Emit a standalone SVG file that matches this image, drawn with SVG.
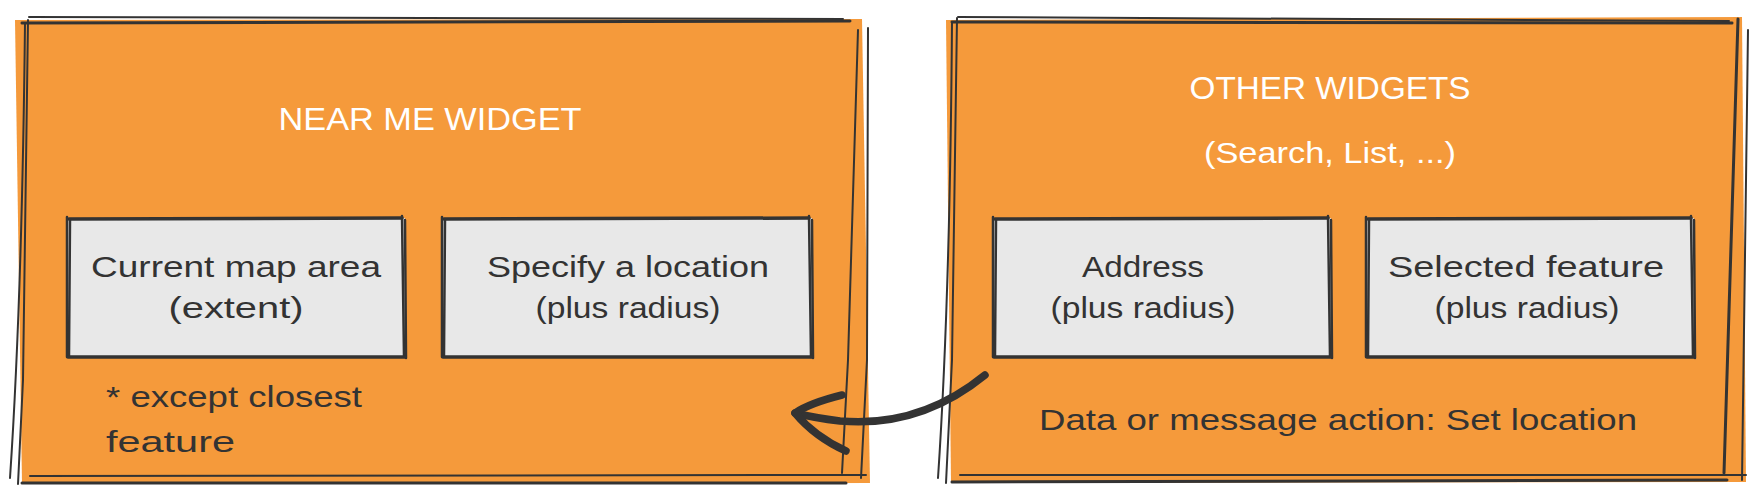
<svg xmlns="http://www.w3.org/2000/svg" width="1754" height="500" viewBox="0 0 1754 500">
<defs>
<style>
.bg{fill:#f59a3b;stroke:none}
.sk{fill:none;stroke:#333;stroke-width:2;stroke-linecap:round;stroke-linejoin:round}
.skt{fill:none;stroke:#333;stroke-width:3;stroke-linecap:round}
.in{fill:#e8e8e8;stroke:none}
.bs{fill:none;stroke:#333;stroke-width:2.5;stroke-linecap:round}
.bt{fill:none;stroke:#333;stroke-width:3.5;stroke-linecap:round}
.t{font-family:"Liberation Sans","Open Sans",sans-serif;fill:#333}
.w{font-family:"Liberation Sans","Open Sans",sans-serif;fill:#ffffff}
.arr{fill:none;stroke:#333;stroke-width:7.5;stroke-linecap:round;stroke-linejoin:round}
</style>
</defs>
<rect width="1754" height="500" fill="#ffffff"/>

<g id="near-me-widget">
<polygon class="bg" points="15,20 862,19 870,483 22,484"/>
<path class="skt" d="M22 23 L850 21"/>
<path class="sk" d="M29 17 L843 19"/>
<path class="sk" d="M25 23 Q22 300 10 478"/>
<path class="sk" d="M28 20 L23 380 L18 484"/>
<path class="sk" d="M858 30 L848 360 L842 473"/>
<path class="sk" d="M868 28 L867 360 L861 478"/>
<path class="skt" d="M22 483 L846 483"/>
<path class="sk" d="M30 476 L866 475"/>
<text class="w" x="430" y="130" font-size="32" text-anchor="middle" textLength="303" lengthAdjust="spacingAndGlyphs">NEAR ME WIDGET</text>
<text class="t" x="106" y="407" font-size="30" textLength="256" lengthAdjust="spacingAndGlyphs">* except closest</text>
<text class="t" x="106" y="452" font-size="30" textLength="129" lengthAdjust="spacingAndGlyphs">feature</text>
</g>

<g id="other-widgets">
<polygon class="bg" points="946,20 1742,17 1746,482 951,483"/>
<path class="sk" d="M958 17 L1729 21"/>
<path class="skt" d="M952 22 L1732 23"/>
<path class="sk" d="M952 22 Q950 300 938 478"/>
<path class="sk" d="M957 18 L952 360 L946 483"/>
<path class="skt" d="M1738 19 L1724 473"/>
<path class="sk" d="M1748 30 L1742 480"/>
<path class="skt" d="M952 482 L1727 480"/>
<path class="sk" d="M960 475 L1746 475"/>
<text class="w" x="1330" y="99" font-size="32" text-anchor="middle" textLength="281" lengthAdjust="spacingAndGlyphs">OTHER WIDGETS</text>
<text class="w" x="1330" y="163" font-size="30" text-anchor="middle" textLength="252" lengthAdjust="spacingAndGlyphs">(Search, List, ...)</text>
<text class="t" x="1338" y="430" font-size="30" text-anchor="middle" textLength="598" lengthAdjust="spacingAndGlyphs">Data or message action: Set location</text>
</g>

<g id="current-map-area">
<rect class="in" x="67" y="218" width="338" height="139"/>
<path class="bt" d="M69 219 L402 218"/>
<path class="bs" d="M67 217 L67 357"/>
<path class="bs" d="M70 220 L69 356"/>
<path class="bs" d="M402 216 L404 356"/>
<path class="bs" d="M405 220 L406 358"/>
<path class="bt" d="M68 357 L405 357"/>
<text class="t" x="236" y="277" font-size="30" text-anchor="middle" textLength="290" lengthAdjust="spacingAndGlyphs">Current map area</text>
<text class="t" x="236" y="318" font-size="30" text-anchor="middle" textLength="135" lengthAdjust="spacingAndGlyphs">(extent)</text>
</g>

<g id="specify-location">
<rect class="in" x="442" y="218" width="370" height="139"/>
<path class="bt" d="M444 219 L809 218"/>
<path class="bs" d="M442 217 L442 357"/>
<path class="bs" d="M445 220 L444 356"/>
<path class="bs" d="M809 216 L811 356"/>
<path class="bs" d="M812 220 L813 358"/>
<path class="bt" d="M443 357 L812 357"/>
<text class="t" x="628" y="277" font-size="30" text-anchor="middle" textLength="282" lengthAdjust="spacingAndGlyphs">Specify a location</text>
<text class="t" x="628" y="318" font-size="30" text-anchor="middle" textLength="185" lengthAdjust="spacingAndGlyphs">(plus radius)</text>
</g>

<g id="address">
<rect class="in" x="993" y="218" width="338" height="139"/>
<path class="bt" d="M995 219 L1328 218"/>
<path class="bs" d="M993 217 L993 357"/>
<path class="bs" d="M996 220 L995 356"/>
<path class="bs" d="M1328 216 L1330 356"/>
<path class="bs" d="M1331 220 L1332 358"/>
<path class="bt" d="M994 357 L1331 357"/>
<text class="t" x="1143" y="277" font-size="30" text-anchor="middle" textLength="122" lengthAdjust="spacingAndGlyphs">Address</text>
<text class="t" x="1143" y="318" font-size="30" text-anchor="middle" textLength="185" lengthAdjust="spacingAndGlyphs">(plus radius)</text>
</g>

<g id="selected-feature">
<rect class="in" x="1366" y="218" width="328" height="139"/>
<path class="bt" d="M1368 219 L1691 218"/>
<path class="bs" d="M1366 217 L1366 357"/>
<path class="bs" d="M1369 220 L1368 356"/>
<path class="bs" d="M1691 216 L1693 356"/>
<path class="bs" d="M1694 220 L1695 358"/>
<path class="bt" d="M1367 357 L1694 357"/>
<text class="t" x="1526" y="277" font-size="30" text-anchor="middle" textLength="276" lengthAdjust="spacingAndGlyphs">Selected feature</text>
<text class="t" x="1527" y="318" font-size="30" text-anchor="middle" textLength="185" lengthAdjust="spacingAndGlyphs">(plus radius)</text>
</g>

<g id="connectors">
<path class="arr" d="M985 375 Q920 428 840 421 Q815 418 795 413"/>
<path class="arr" d="M842 395 Q810 403 795 413 Q815 437 846 451"/>
</g>
</svg>
